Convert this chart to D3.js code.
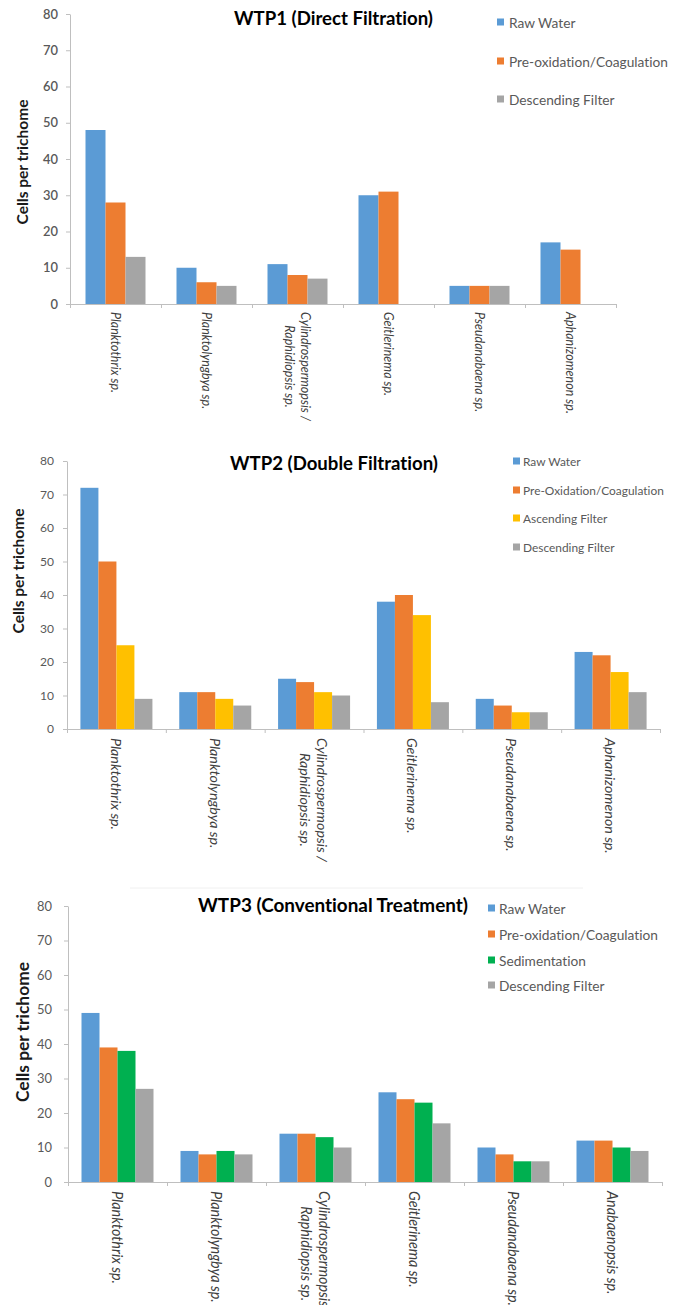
<!DOCTYPE html>
<html>
<head>
<meta charset="utf-8">
<script src="https://cdn.jsdelivr.net/npm/d3@7"></script>
<style>
  html, body { margin: 0; padding: 0; background: #fff; }
  svg { display: block; }
  text { font-family: Lato, "Open Sans", "Noto Sans", sans-serif; font-variant-ligatures: none; font-feature-settings: "liga" 0, "dlig" 0; }
</style>
</head>
<body>
<svg id="chart" width="677" height="1305"></svg>
<script>
// ---------------- data ----------------
const yTicks = [0, 10, 20, 30, 40, 50, 60, 70, 80];

const titles = ["WTP1 (Direct Filtration)", "WTP2 (Double Filtration)", "WTP3 (Conventional Treatment)"];
const yAxisLabel = "Cells per trichome";

const categories1 = ["Planktothrix sp.", "Planktolyngbya sp.", "Cylindrospermopsis /\nRaphidiopsis sp.", "Geitlerinema sp.", "Pseudanabaena sp.", "Aphanizomenon sp."];
const categories2 = ["Planktothrix sp.", "Planktolyngbya sp.", "Cylindrospermopsis /\nRaphidiopsis sp.", "Geitlerinema sp.", "Pseudanabaena sp.", "Aphanizomenon sp."];
const categories3 = ["Planktothrix sp.", "Planktolyngbya sp.", "Cylindrospermopsis /\nRaphidiopsis sp.", "Geitlerinema sp.", "Pseudanabaena sp.", "Anabaenopsis sp."];

const series1 = ["Raw Water", "Pre-oxidation/Coagulation", "Descending Filter"];
const series2 = ["Raw Water", "Pre-Oxidation/Coagulation", "Ascending Filter", "Descending Filter"];
const series3 = ["Raw Water", "Pre-oxidation/Coagulation", "Sedimentation", "Descending Filter"];

// WTP1
const wtp1Raw  = [48, 10, 11, 30, 5, 17];
const wtp1Pre  = [28, 6, 8, 31, 5, 15];
const wtp1Desc = [13, 5, 7, 0, 5, 0];
// WTP2
const wtp2Raw  = [72, 11, 15, 38, 9, 23];
const wtp2Pre  = [50, 11, 14, 40, 7, 22];
const wtp2Asc  = [25, 9, 11, 34, 5, 17];
const wtp2Desc = [9, 7, 10, 8, 5, 11];
// WTP3
const wtp3Raw  = [49, 9, 14, 26, 10, 12];
const wtp3Pre  = [39, 8, 14, 24, 8, 12];
const wtp3Sed  = [38, 9, 13, 23, 6, 10];
const wtp3Desc = [27, 8, 10, 17, 6, 9];

// ---------------- styling ----------------
const C_BLUE = "#5B9BD5", C_ORANGE = "#ED7D31", C_GRAY = "#A5A5A5", C_YELLOW = "#FFC000", C_GREEN = "#00B050";
const AXIS_COLOR = "#BFBFBF";

const panels = [
  {
    title: titles[0], categories: categories1, series: series1,
    values: [wtp1Raw, wtp1Pre, wtp1Desc], colors: [C_BLUE, C_ORANGE, C_GRAY],
    x0: 70, x1: 616, yTop: 14, yBot: 304, barW: 20,
    titleX: 333.5, titleY: 25, titleW: 199,
    ylabX: 22, ylabY: 162, ylabW: 125,
    tickW: 15, tickWeight: 600, tickGap: 8,
    legSqX: 497, legTxX: 509, legY: [22, 61, 99], legW: 159, legSq: 7,
    xlabOffset: 8, xlabW: 81
  },
  {
    title: titles[1], categories: categories2, series: series2,
    values: [wtp2Raw, wtp2Pre, wtp2Asc, wtp2Desc], colors: [C_BLUE, C_ORANGE, C_YELLOW, C_GRAY],
    x0: 67, x1: 660, yTop: 461, yBot: 729, barW: 18,
    titleX: 334, titleY: 470, titleW: 208,
    ylabX: 18, ylabY: 571, ylabW: 125,
    tickW: 14, tickWeight: 400, tickGap: 9,
    legSqX: 513, legTxX: 523, legY: [461, 490, 518, 547], legW: 141, legSq: 7,
    xlabOffset: 9, xlabW: 92
  },
  {
    title: titles[2], categories: categories3, series: series3,
    values: [wtp3Raw, wtp3Pre, wtp3Sed, wtp3Desc], colors: [C_BLUE, C_ORANGE, C_GREEN, C_GRAY],
    x0: 68, x1: 662, yTop: 906, yBot: 1182, barW: 18,
    titleX: 333, titleY: 912, titleW: 270,
    ylabX: 22, ylabY: 1032, ylabW: 140,
    tickW: 15, tickWeight: 400, tickGap: 12,
    legSqX: 488, legTxX: 499, legY: [908, 934, 960, 985], legW: 159, legSq: 7,
    xlabOffset: 9, xlabW: 93
  }
];

const svg = d3.select("#chart");

// find the font size that makes `str` span `target` px
function fitSize(str, target, weight, style) {
  const t = svg.append("text").text(str)
    .style("font-size", "20px").style("font-weight", weight || 400).style("font-style", style || "normal");
  const w = t.node().getComputedTextLength();
  t.remove();
  return 20 * target / w;
}

// faint separator line seen above the third panel
svg.append("line").attr("x1", 130).attr("x2", 583).attr("y1", 888).attr("y2", 888)
  .attr("stroke", "#f0f0f0").attr("stroke-width", 1);

panels.forEach(p => {
  const g = svg.append("g");
  const n = p.series.length;

  const x = d3.scaleBand().domain(p.categories).range([p.x0, p.x1]).padding(0);
  const step = x.step();
  const gap = (step - n * p.barW) / 2;
  const xs = d3.scaleBand().domain(p.series).range([gap, gap + n * p.barW]).padding(0);
  const y = d3.scaleLinear().domain([0, 80]).range([p.yBot, p.yTop]);

  // bars
  p.series.forEach((s, si) => {
    g.append("g").selectAll("rect")
      .data(p.categories.map((c, ci) => ({ c, v: p.values[si][ci] })))
      .join("rect")
      .attr("x", d => x(d.c) + xs(s))
      .attr("width", xs.bandwidth())
      .attr("y", d => y(d.v))
      .attr("height", d => y(0) - y(d.v))
      .attr("fill", p.colors[si]);
  });

  // y axis
  const tickFs = fitSize("80", p.tickW, p.tickWeight);
  const yAxis = g.append("g").attr("transform", `translate(${p.x0},0)`)
    .call(d3.axisLeft(y).tickValues(yTicks).tickSize(4).tickSizeOuter(0).tickPadding(p.tickGap));
  yAxis.select(".domain").attr("stroke", AXIS_COLOR);
  yAxis.selectAll(".tick line").attr("stroke", AXIS_COLOR);
  yAxis.selectAll(".tick text")
    .attr("fill", "#595959").style("font-size", tickFs + "px").style("font-weight", p.tickWeight)
    .style("font-family", "Lato, 'Open Sans', sans-serif");

  // x axis (category boundaries)
  const xb = d3.scaleLinear().domain([0, p.categories.length]).range([p.x0, p.x1]);
  const xAxis = g.append("g").attr("transform", `translate(0,${p.yBot})`)
    .call(d3.axisBottom(xb).tickValues(d3.range(p.categories.length + 1)).tickSize(4).tickSizeOuter(0).tickFormat(""));
  xAxis.select(".domain").attr("stroke", AXIS_COLOR);
  xAxis.selectAll(".tick line").attr("stroke", AXIS_COLOR);

  // category labels, rotated 90deg
  const xlabFs = fitSize(p.categories[0], p.xlabW, 400, "italic");
  const lineH = xlabFs * 1.2;
  p.categories.forEach(c => {
    const lines = c.split("\n");
    const lg = g.append("g")
      .attr("transform", `translate(${x(c) + step / 2},${p.yBot + p.xlabOffset}) rotate(90)`);
    const texts = lines.map((ln, i) => lg.append("text")
      .text(ln)
      .attr("y", (i - (lines.length - 1) / 2) * lineH)
      .attr("dominant-baseline", "central")
      .attr("fill", "#404040")
      .style("font-size", xlabFs + "px")
      .style("font-style", "italic"));
    const lens = texts.map(t => t.node().getComputedTextLength());
    const maxLen = d3.max(lens);
    texts.forEach((t, i) => t.attr("x", (maxLen - lens[i]) / 2));
  });

  // title
  g.append("text").text(p.title)
    .attr("x", p.titleX).attr("y", p.titleY)
    .attr("text-anchor", "middle")
    .attr("fill", "#000")
    .style("font-size", fitSize(p.title, p.titleW, 700) + "px").style("font-weight", 700);

  // y axis label
  g.append("text").text(yAxisLabel)
    .attr("transform", `translate(${p.ylabX},${p.ylabY}) rotate(-90)`)
    .attr("text-anchor", "middle").attr("dominant-baseline", "central")
    .attr("fill", "#1a1a1a")
    .style("font-size", fitSize(yAxisLabel, p.ylabW, 700) + "px").style("font-weight", 700);

  // legend
  const legFs = fitSize(p.series[1], p.legW, 400);
  p.series.forEach((s, si) => {
    g.append("rect")
      .attr("x", p.legSqX).attr("y", p.legY[si] - p.legSq / 2)
      .attr("width", p.legSq).attr("height", p.legSq)
      .attr("fill", p.colors[si]);
    g.append("text").text(s)
      .attr("x", p.legTxX).attr("y", p.legY[si])
      .attr("dominant-baseline", "central")
      .attr("fill", "#595959")
      .style("font-size", legFs + "px");
  });
});
</script>
</body>
</html>
